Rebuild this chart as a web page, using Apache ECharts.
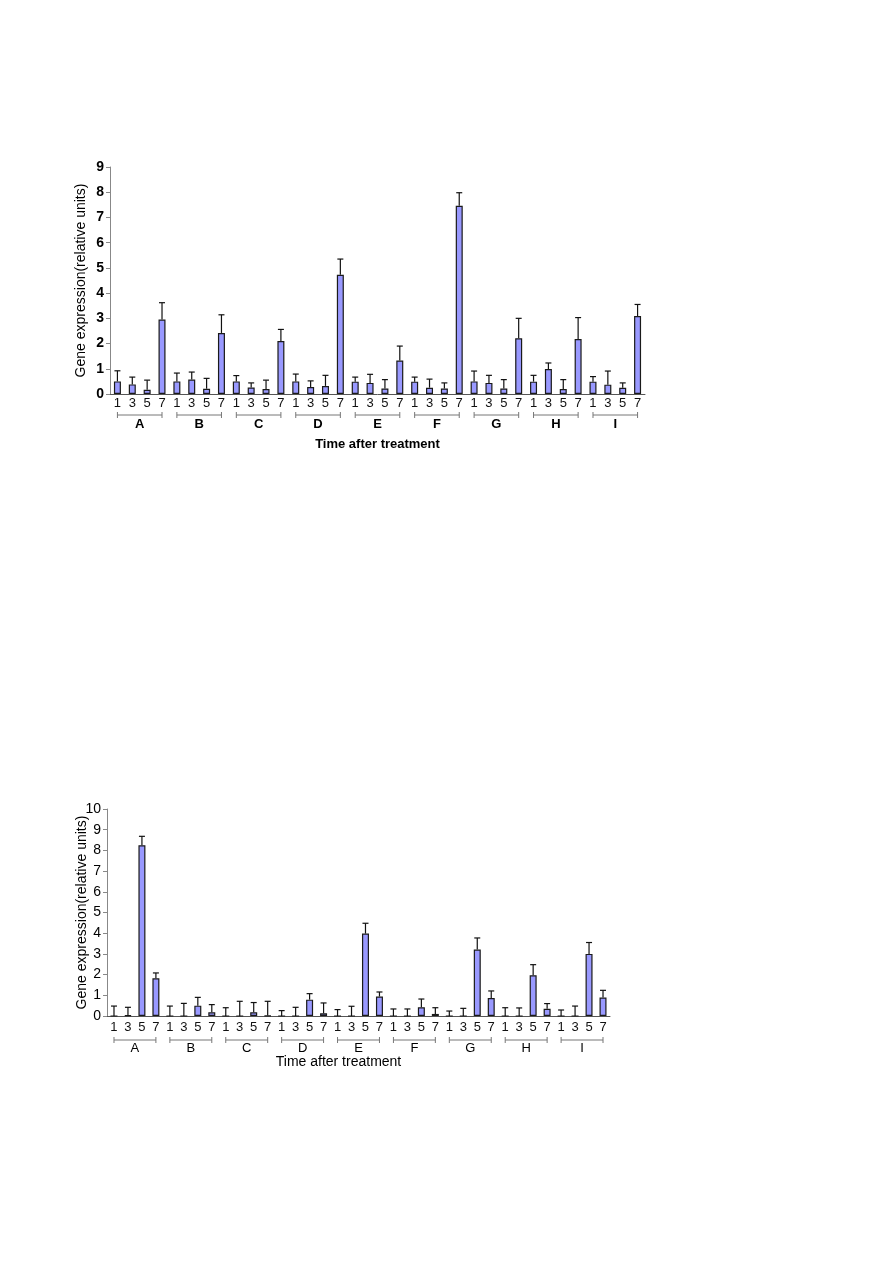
<!DOCTYPE html>
<html>
<head>
<meta charset="utf-8">
<script src="https://cdn.jsdelivr.net/npm/echarts@6/dist/echarts.min.js"></script>
<style>
  html, body { margin: 0; padding: 0; background: #fff; }
  #chart { width: 893px; height: 1263px; }
</style>
</head>
<body>
<div id="chart"></div>
<script>
const groups = ['A', 'B', 'C', 'D', 'E', 'F', 'G', 'H', 'I']
const times = ['1', '3', '5', '7']

// top panel: bar height and top of error bar
const topMean = [
  0.50, 0.38, 0.17, 2.95,
  0.50, 0.57, 0.21, 2.42,
  0.50, 0.26, 0.20, 2.10,
  0.50, 0.28, 0.32, 4.73,
  0.49, 0.44, 0.22, 1.33,
  0.49, 0.25, 0.22, 7.46,
  0.50, 0.44, 0.22, 2.21,
  0.49, 0.99, 0.20, 2.18,
  0.49, 0.37, 0.25, 3.09
]
const topUpper = [
  0.92, 0.67, 0.55, 3.62,
  0.83, 0.87, 0.62, 3.14,
  0.73, 0.44, 0.55, 2.56,
  0.79, 0.52, 0.74, 5.35,
  0.67, 0.78, 0.57, 1.90,
  0.67, 0.59, 0.44, 7.98,
  0.91, 0.74, 0.57, 3.00,
  0.74, 1.23, 0.57, 3.03,
  0.69, 0.91, 0.44, 3.55
]

// bottom panel
const botMean = [
  0, 0.03, 8.25, 1.82,
  0, 0, 0.50, 0.18,
  0, 0, 0.18, 0.02,
  0, 0, 0.79, 0.13,
  0, 0, 3.98, 0.94,
  0, 0, 0.42, 0.10,
  0, 0, 3.21, 0.87,
  0, 0, 1.97, 0.35,
  0, 0, 3.00, 0.89
]
const botUpper = [
  0.48, 0.42, 8.68, 2.08,
  0.48, 0.61, 0.90, 0.55,
  0.40, 0.71, 0.65, 0.71,
  0.26, 0.42, 1.08, 0.63,
  0.31, 0.47, 4.48, 1.16,
  0.34, 0.34, 0.82, 0.40,
  0.24, 0.37, 3.77, 1.21,
  0.40, 0.39, 2.48, 0.60,
  0.29, 0.48, 3.55, 1.24
]

const cats = []
groups.forEach(g => times.forEach(t => cats.push(g + t)))

const font = 'Liberation Sans, Arial, sans-serif'
const barColor = '#9999ff'

function errData(mean, upper) {
  return mean.map((m, i) => [i, m, upper[i]])
}

function renderErr(params, api) {
  const x = api.value(0)
  const p0 = api.coord([x, api.value(1)])
  const p1 = api.coord([x, api.value(2)])
  const st = { stroke: '#111', lineWidth: 1.2 }
  return {
    type: 'group',
    children: [
      { type: 'line', shape: { x1: p0[0], y1: p0[1], x2: p1[0], y2: p1[1] }, style: st },
      { type: 'line', shape: { x1: p1[0] - 3, y1: p1[1], x2: p1[0] + 3, y2: p1[1] }, style: st }
    ]
  }
}

function bracketRenderer(drop) {
  return function (params, api) {
    const g = api.value(0)
    const a = api.coord([g * 4, 0])
    const b = api.coord([g * 4 + 3, 0])
    const y = a[1] + drop
    const st = { stroke: '#777', lineWidth: 1 }
    return {
      type: 'group',
      children: [
        { type: 'line', shape: { x1: a[0], y1: y, x2: b[0], y2: y }, style: st },
        { type: 'line', shape: { x1: a[0], y1: y - 3, x2: a[0], y2: y + 3 }, style: st },
        { type: 'line', shape: { x1: b[0], y1: y - 3, x2: b[0], y2: y + 3 }, style: st }
      ]
    }
  }
}

const catAxis = (gridIndex, margin, nameStyle) => ({
  type: 'category',
  gridIndex: gridIndex,
  data: cats,
  axisLine: { lineStyle: { color: '#555' } },
  axisTick: { show: false },
  axisLabel: {
    interval: 0, margin: margin, color: '#111', fontSize: 13, fontFamily: font,
    formatter: v => v.slice(1)
  },
  name: 'Time after treatment',
  nameLocation: 'middle',
  nameGap: 0,
  nameMoveOverlap: false,
  nameTextStyle: Object.assign({ color: '#000', fontFamily: font }, nameStyle)
})

const groupAxis = (gridIndex, offset, weight) => ({
  type: 'category',
  gridIndex: gridIndex,
  data: groups,
  position: 'bottom',
  offset: offset,
  axisLine: { show: false },
  axisTick: { show: false },
  axisLabel: { margin: 0, color: '#000', fontSize: 13, fontFamily: font, fontWeight: weight }
})

const valAxis = (gridIndex, max, gap, weight) => ({
  type: 'value',
  gridIndex: gridIndex,
  min: 0,
  max: max,
  interval: 1,
  splitLine: { show: false },
  axisLine: { show: true, lineStyle: { color: '#888' } },
  axisTick: { show: true, length: 4, lineStyle: { color: '#888' } },
  axisLabel: { margin: 6, color: '#000', fontSize: 14, fontFamily: font, fontWeight: weight },
  name: 'Gene expression(relative units)',
  nameLocation: 'middle',
  nameGap: gap,
  nameMoveOverlap: false,
  nameTextStyle: { color: '#000', fontSize: 14, fontFamily: font }
})

const chart = echarts.init(document.getElementById('chart'))

const option = {
  backgroundColor: '#fff',
  animation: false,
  grid: [
    { left: 110, right: 248, top: 167, height: 227 },
    { left: 107, right: 283, top: 809, height: 207 }
  ],
  xAxis: [
    catAxis(0, 3, { fontSize: 13, fontWeight: 'bold', padding: [44, 0, 0, 0] }),
    groupAxis(0, 24, 'bold'),
    catAxis(1, 5, { fontSize: 14, padding: [39, 40, 0, 0] }),
    groupAxis(1, 26, 'normal')
  ],
  yAxis: [valAxis(0, 9, 22, 'bold'), valAxis(1, 10, 18, 'normal')],
  series: [
    {
      type: 'bar', xAxisIndex: 0, yAxisIndex: 0, data: topMean, barWidth: 7,
      itemStyle: { color: barColor, borderColor: '#1a1a1a', borderWidth: 1.2 }
    },
    {
      type: 'custom', xAxisIndex: 0, yAxisIndex: 0, data: errData(topMean, topUpper),
      renderItem: renderErr, clip: false, z: 5
    },
    {
      type: 'custom', xAxisIndex: 0, yAxisIndex: 0, data: groups.map((g, i) => [i, 0]),
      renderItem: bracketRenderer(21), clip: false
    },
    {
      type: 'bar', xAxisIndex: 2, yAxisIndex: 1, data: botMean, barWidth: 7,
      itemStyle: { color: barColor, borderColor: '#1a1a1a', borderWidth: 1.2 }
    },
    {
      type: 'custom', xAxisIndex: 2, yAxisIndex: 1, data: errData(botMean, botUpper),
      renderItem: renderErr, clip: false, z: 5
    },
    {
      type: 'custom', xAxisIndex: 2, yAxisIndex: 1, data: groups.map((g, i) => [i, 0]),
      renderItem: bracketRenderer(24), clip: false
    }
  ]
}

chart.setOption(option)
</script>
</body>
</html>
